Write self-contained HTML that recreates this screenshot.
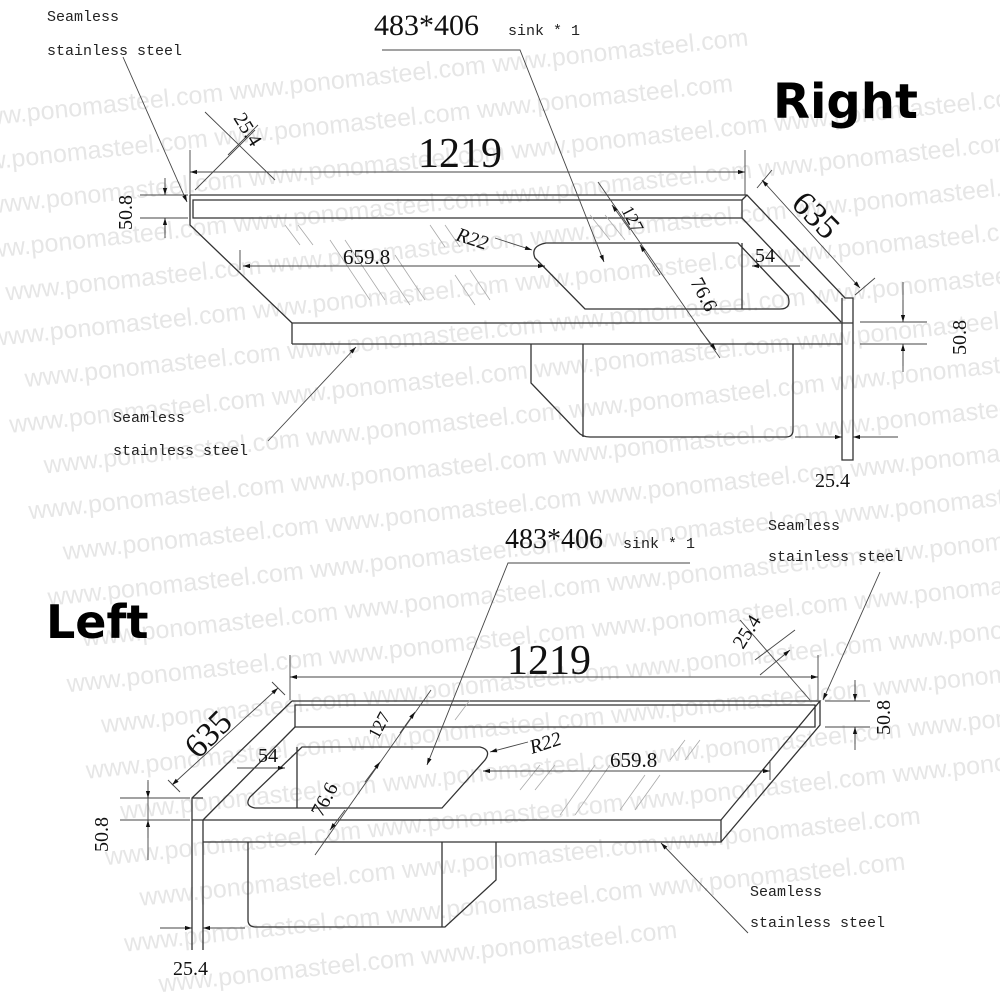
<!DOCTYPE html>
<html><head><meta charset="utf-8"><style>
html,body{margin:0;padding:0;background:#fff;width:1000px;height:1000px;overflow:hidden}
svg{display:block;overflow:hidden}
.wm{font-family:"Liberation Sans",sans-serif;font-size:25px;fill:#e6e6e6}
.m{font-family:"Liberation Mono",monospace;font-size:15px;fill:#222}
.s{font-family:"Liberation Serif",serif;fill:#111}
.l{stroke:#333;stroke-width:1.3;fill:none}
.t{stroke:#444;stroke-width:0.9;fill:none}
.d{stroke:#aaa;stroke-width:0.8;fill:none}
</style></head><body>
<svg width="1000" height="1000" viewBox="0 0 1000 1000" xmlns="http://www.w3.org/2000/svg">
<defs>
<marker id="a" viewBox="0 0 10 10" refX="10" refY="5" markerWidth="9" markerHeight="7" orient="auto-start-reverse" markerUnits="userSpaceOnUse"><path d="M0,2 L10,5 L0,8 z" fill="#111"/></marker>
<clipPath id="c"><rect width="1000" height="1000"/></clipPath>
</defs>
<rect width="1000" height="1000" fill="#fff"/>
<g clip-path="url(#c)">
<g transform="rotate(-6 500 500)">
<text class="wm" x="10" y="74">www.ponomasteel.com   www.ponomasteel.com   www.ponomasteel.com</text>
<text class="wm" x="-10" y="118">www.ponomasteel.com   www.ponomasteel.com   www.ponomasteel.com</text>
<text class="wm" x="20" y="162">www.ponomasteel.com   www.ponomasteel.com   www.ponomasteel.com   www.ponomasteel.com</text>
<text class="wm" x="0" y="206">www.ponomasteel.com   www.ponomasteel.com   www.ponomasteel.com   www.ponomasteel.com</text>
<text class="wm" x="30" y="250">www.ponomasteel.com   www.ponomasteel.com   www.ponomasteel.com   www.ponomasteel.com</text>
<text class="wm" x="10" y="294">www.ponomasteel.com   www.ponomasteel.com   www.ponomasteel.com   www.ponomasteel.com</text>
<text class="wm" x="40" y="338">www.ponomasteel.com   www.ponomasteel.com   www.ponomasteel.com   www.ponomasteel.com</text>
<text class="wm" x="20" y="382">www.ponomasteel.com   www.ponomasteel.com   www.ponomasteel.com   www.ponomasteel.com</text>
<text class="wm" x="50" y="426">www.ponomasteel.com   www.ponomasteel.com   www.ponomasteel.com   www.ponomasteel.com</text>
<text class="wm" x="30" y="470">www.ponomasteel.com   www.ponomasteel.com   www.ponomasteel.com   www.ponomasteel.com</text>
<text class="wm" x="60" y="514">www.ponomasteel.com   www.ponomasteel.com   www.ponomasteel.com   www.ponomasteel.com</text>
<text class="wm" x="40" y="558">www.ponomasteel.com   www.ponomasteel.com   www.ponomasteel.com   www.ponomasteel.com</text>
<text class="wm" x="70" y="602">www.ponomasteel.com   www.ponomasteel.com   www.ponomasteel.com   www.ponomasteel.com</text>
<text class="wm" x="50" y="646">www.ponomasteel.com   www.ponomasteel.com   www.ponomasteel.com   www.ponomasteel.com</text>
<text class="wm" x="80" y="690">www.ponomasteel.com   www.ponomasteel.com   www.ponomasteel.com   www.ponomasteel.com</text>
<text class="wm" x="60" y="734">www.ponomasteel.com   www.ponomasteel.com   www.ponomasteel.com   www.ponomasteel.com</text>
<text class="wm" x="90" y="778">www.ponomasteel.com   www.ponomasteel.com   www.ponomasteel.com   www.ponomasteel.com</text>
<text class="wm" x="70" y="822">www.ponomasteel.com   www.ponomasteel.com   www.ponomasteel.com   www.ponomasteel.com</text>
<text class="wm" x="100" y="866">www.ponomasteel.com   www.ponomasteel.com   www.ponomasteel.com</text>
<text class="wm" x="80" y="910">www.ponomasteel.com   www.ponomasteel.com   www.ponomasteel.com</text>
<text class="wm" x="110" y="954">www.ponomasteel.com   www.ponomasteel.com</text>
</g>
</g>

<!-- ============ TOP (Right) ============ -->
<g>
<path class="l" d="M190,195 L747,195 L845,298 L853,298 L853,460 L842,460 L842,298"/>
<path class="l" d="M193,200 L742,200 L742,218 L193,218 Z"/>
<path class="l" d="M190,195 L190,225 L292,323"/>
<path class="l" d="M742,218 L841,322"/>
<path class="l" d="M747,195 L742,200"/>
<path class="l" d="M292,323 L853,323 M292,344 L842,344 M292,323 L292,344"/>
<path class="l" d="M546,243 L738,243 L788,296 Q792,309 780,309 L585,309 L535,258 Q530,246 546,243 Z"/>
<path class="l" d="M742,243 L742,309"/>
<path class="l" d="M531,344 L531,383 L578,432 Q582,437 590,437 L786,437 Q793,437 793,430 L793,344"/>
<path class="l" d="M583,344 L583,437"/>
<path class="d" d="M285,225 l15,20 M298,225 l15,20 M330,240 l40,60 M345,240 l40,60 M380,260 l30,45 M395,255 l30,45 M430,225 l15,22 M445,225 l15,22 M470,270 l20,30 M455,275 l20,30 M590,215 l20,25 M605,215 l20,25"/>
<path class="t" d="M190,172 L745,172" marker-start="url(#a)" marker-end="url(#a)"/>
<path class="t" d="M190,150 L190,195 M745,150 L745,195"/>
<path class="t" d="M205,112 L275,180 M228,155 L258,125"/>
<path class="t" d="M195,190 L255,130"/>
<path class="t" d="M140,195 L188,195 M140,218 L188,218 M165,185 L165,195 M165,218 L165,235"/>
<path class="t" d="M165,178 L165,195" marker-end="url(#a)"/><path class="t" d="M165,238 L165,218" marker-end="url(#a)"/>
<path class="t" d="M123,57 L187,202" marker-end="url(#a)"/>
<path class="t" d="M240,250 L240,270 M243,266 L545,266" marker-end="url(#a)"/>
<path class="t" d="M243,266 L300,266" marker-start="url(#a)"/>
<path class="t" d="M495,238 L532,250" marker-end="url(#a)"/>
<path class="t" d="M382,50 L520,50 L604,262" marker-end="url(#a)"/>
<path class="t" d="M598,182 L720,358"/>
<path class="t" d="M612,205 L630,230" marker-start="url(#a)"/>
<path class="t" d="M640,245 L660,275" marker-start="url(#a)"/>
<path class="t" d="M700,330 L716,350" marker-end="url(#a)"/>
<path class="t" d="M752,266 L800,266" marker-start="url(#a)"/>
<path class="t" d="M762,180 L860,288" marker-start="url(#a)" marker-end="url(#a)"/>
<path class="t" d="M757,188 L772,170 M855,295 L875,278"/>
<path class="t" d="M860,322 L927,322 M860,344 L927,344 M903,282 L903,322 M903,344 L903,372"/>
<path class="t" d="M903,300 L903,322" marker-end="url(#a)"/><path class="t" d="M903,366 L903,344" marker-end="url(#a)"/>
<path class="t" d="M795,437 L842,437 M853,437 L898,437"/>
<path class="t" d="M815,437 L842,437" marker-end="url(#a)"/><path class="t" d="M880,437 L853,437" marker-end="url(#a)"/>
<path class="t" d="M268,441 L356,347" marker-end="url(#a)"/>
<text class="m" x="47" y="21">Seamless</text>
<text class="m" x="47" y="55">stainless steel</text>
<text class="s" x="374" y="35" font-size="30">483*406</text>
<text class="m" x="508" y="35" font-size="14">sink * 1</text>
<text class="s" x="418" y="167" font-size="42">1219</text>
<text class="s" font-size="20" transform="translate(233,118) rotate(58)">25.4</text>
<text class="s" font-size="20" transform="translate(132,230) rotate(-90)">50.8</text>
<text class="s" x="343" y="264" font-size="21">659.8</text>
<text class="s" font-size="20" transform="translate(455,240) rotate(18)" font-style="italic">R22</text>
<text class="s" font-size="18" transform="translate(621,210) rotate(62)">127</text>
<text class="s" font-size="20" transform="translate(690,282) rotate(62)">76.6</text>
<text class="s" x="755" y="262" font-size="20">54</text>
<text class="s" font-size="34" transform="translate(790,205) rotate(45)">635</text>
<text class="s" font-size="20" transform="translate(966,355) rotate(-90)">50.8</text>
<text class="s" x="815" y="487" font-size="20">25.4</text>
<text class="m" x="113" y="422">Seamless</text>
<text class="m" x="113" y="455">stainless steel</text>
<text x="773" y="118" font-family="'DejaVu Sans','Liberation Sans',sans-serif" font-weight="bold" font-size="48" fill="#000">Right</text>
</g>

<!-- ============ BOTTOM (Left) ============ -->
<g>
<path class="l" d="M292,701 L820,701 L721,820 M292,701 L192,798 L192,950 M203,820 L203,950"/>
<path class="l" d="M295,705 L815,705 L815,727 L295,727 Z"/>
<path class="l" d="M295,727 L203,820"/>
<path class="l" d="M820,701 L820,725 L721,842"/>
<path class="l" d="M192,798 L203,798 M192,820 L721,820 M203,842 L721,842 L721,820"/>
<path class="l" d="M302,747 L480,747 Q492,750 485,760 L442,808 L255,808 Q244,806 250,797 Z"/>
<path class="l" d="M297,747 L297,808"/>
<path class="l" d="M248,842 L248,920 Q248,927 256,927 L445,927 L496,880 L496,842"/>
<path class="l" d="M442,842 L442,927"/>
<path class="d" d="M520,790 l20,-25 M535,790 l20,-25 M560,815 l35,-50 M575,815 l35,-50 M620,810 l25,-35 M635,810 l25,-35 M670,760 l15,-20 M685,760 l15,-20 M470,700 l-15,20"/>
<path class="t" d="M290,677 L818,677" marker-start="url(#a)" marker-end="url(#a)"/>
<path class="t" d="M290,655 L290,700 M818,655 L818,700"/>
<path class="t" d="M740,620 L810,700 M755,660 L795,630"/>
<path class="t" d="M760,675 L790,650" marker-end="url(#a)"/>
<path class="t" d="M880,572 L823,700" marker-end="url(#a)"/>
<path class="t" d="M825,701 L870,701 M825,727 L870,727 M855,680 L855,701 M855,727 L855,750"/>
<path class="t" d="M855,684 L855,701" marker-end="url(#a)"/><path class="t" d="M855,744 L855,727" marker-end="url(#a)"/>
<path class="t" d="M120,798 L190,798 M120,820 L190,820 M148,780 L148,860"/>
<path class="t" d="M148,782 L148,798" marker-end="url(#a)"/><path class="t" d="M148,838 L148,820" marker-end="url(#a)"/>
<path class="t" d="M172,785 L278,688" marker-start="url(#a)" marker-end="url(#a)"/>
<path class="t" d="M168,780 L180,792 M272,682 L285,695"/>
<path class="t" d="M237,768 L285,768" marker-end="url(#a)"/>
<path class="t" d="M431,690 L315,855"/>
<path class="t" d="M415,712 L400,733" marker-start="url(#a)"/>
<path class="t" d="M380,762 L365,782" marker-start="url(#a)"/>
<path class="t" d="M345,810 L330,830" marker-end="url(#a)"/>
<path class="t" d="M690,563 L508,563 L427,765" marker-end="url(#a)"/>
<path class="t" d="M528,742 L490,752" marker-end="url(#a)"/>
<path class="t" d="M483,771 L770,771" marker-start="url(#a)" marker-end="url(#a)"/>
<path class="t" d="M770,760 L770,780"/>
<path class="t" d="M748,933 L661,843" marker-end="url(#a)"/>
<path class="t" d="M160,928 L192,928 M203,928 L245,928"/>
<path class="t" d="M168,928 L192,928" marker-end="url(#a)"/><path class="t" d="M222,928 L203,928" marker-end="url(#a)"/>
<text class="s" x="505" y="548" font-size="28">483*406</text>
<text class="m" x="623" y="548" font-size="14">sink * 1</text>
<text class="m" x="768" y="530">Seamless</text>
<text class="m" x="768" y="561">stainless steel</text>
<text x="46" y="638" font-family="'DejaVu Sans','Liberation Sans',sans-serif" font-weight="bold" font-size="46" fill="#000">Left</text>
<text class="s" x="507" y="674" font-size="42">1219</text>
<text class="s" font-size="20" transform="translate(743,650) rotate(-58)">25.4</text>
<text class="s" font-size="20" transform="translate(890,735) rotate(-90)">50.8</text>
<text class="s" font-size="34" transform="translate(198,760) rotate(-45)">635</text>
<text class="s" font-size="18" transform="translate(378,740) rotate(-62)">127</text>
<text class="s" x="258" y="762" font-size="20">54</text>
<text class="s" font-size="20" transform="translate(532,754) rotate(-18)" font-style="italic">R22</text>
<text class="s" x="610" y="767" font-size="21">659.8</text>
<text class="s" font-size="20" transform="translate(322,818) rotate(-62)">76.6</text>
<text class="s" font-size="20" transform="translate(108,852) rotate(-90)">50.8</text>
<text class="m" x="750" y="896">Seamless</text>
<text class="m" x="750" y="927">stainless steel</text>
<text class="s" x="173" y="975" font-size="20">25.4</text>
</g>
</svg>
</body></html>
